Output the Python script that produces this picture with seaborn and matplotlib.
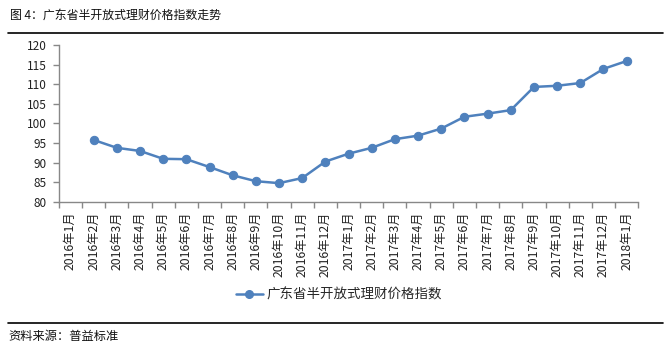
import numpy as np
import pandas as pd
import matplotlib
matplotlib.use("Agg")
import matplotlib.pyplot as plt
import seaborn as sns
from matplotlib.lines import Line2D

# Data
months = ["2016年1月", "2016年2月", "2016年3月", "2016年4月", "2016年5月", "2016年6月",
          "2016年7月", "2016年8月", "2016年9月", "2016年10月", "2016年11月", "2016年12月",
          "2017年1月", "2017年2月", "2017年3月", "2017年4月", "2017年5月", "2017年6月",
          "2017年7月", "2017年8月", "2017年9月", "2017年10月", "2017年11月", "2017年12月",
          "2018年1月"]
index_values = [np.nan, 95.8, 93.8, 93.0, 91.0, 90.9, 88.9, 86.8, 85.3, 84.8, 86.1, 90.3,
                92.3, 93.8, 96.0, 96.9, 98.7, 101.7, 102.5, 103.4, 109.3, 109.6, 110.3,
                113.9, 115.9]
y_ticks = [80, 85, 90, 95, 100, 105, 110, 115, 120]
series_name = "广东省半开放式理财价格指数"
title = "图 4：广东省半开放式理财价格指数走势"
source = "资料来源：普益标准"

sns.set_theme(style="white")
plt.rcParams['font.family'] = ['Noto Sans CJK SC', 'DejaVu Sans']

df = pd.DataFrame({"pos": np.arange(len(months)), "value": index_values})

fig = plt.figure(figsize=(6.69, 3.51), dpi=100)
ax = fig.add_axes([0.088, 0.4245, 0.866, 0.4475])

line_color = "#4F81BD"
sns.lineplot(data=df, x="pos", y="value", ax=ax, color=line_color, linewidth=1.8,
             marker="o", markersize=6, markeredgecolor=line_color)

ax.set_xlim(-0.5, len(months) - 0.5)
ax.set_ylim(80, 120)
ax.set_yticks(y_ticks)
ax.set_yticklabels([str(v) for v in y_ticks], fontsize=8.5, color="#222222")
ax.set_xticks(df["pos"])
ax.set_xticklabels(months, rotation=90, fontsize=8.8, color="#222222")
ax.set_xticks(np.arange(len(months) + 1) - 0.5, minor=True)
ax.tick_params(axis="x", which="major", length=0, pad=7)
ax.tick_params(axis="x", which="minor", length=4, color="#888888", width=1, bottom=True)
ax.tick_params(axis="y", length=4, color="#888888", width=1, left=True, pad=5)
ax.set_xlabel("")
ax.set_ylabel("")
for side in ["top", "right"]:
    ax.spines[side].set_visible(False)
for side in ["left", "bottom"]:
    ax.spines[side].set_color("#888888")
    ax.spines[side].set_linewidth(1)
ax.grid(False)

# legend
handle = Line2D([], [], color=line_color, linewidth=1.8, marker="o", markersize=5.5)
fig.legend([handle], [series_name], loc="center", bbox_to_anchor=(0.507, 0.16),
           frameon=False, fontsize=9.7, handlelength=2.0, handletextpad=0.3)

# title and source with rules
fig.text(0.015, 0.957, title, fontsize=8.6, ha="left", va="center", color="#111111")
fig.add_artist(Line2D([0.012, 0.991], [0.906, 0.906], color="black", linewidth=1.2))
fig.add_artist(Line2D([0.012, 0.991], [0.080, 0.080], color="black", linewidth=1.2))
fig.text(0.012, 0.040, source, fontsize=8.8, ha="left", va="center", color="#111111")

fig.savefig("out.png", dpi=100)
plt.close(fig)
